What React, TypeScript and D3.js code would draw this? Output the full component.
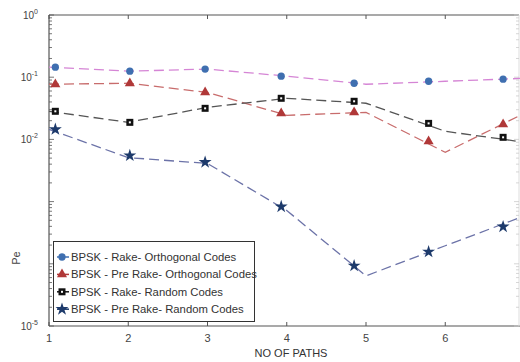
import * as d3 from "d3";
import { useEffect, useRef } from "react";

const paths = [1, 2, 3, 4, 5, 6, 7];
// markers sit a little left of the line vertices in the source figure
const markerPaths = [1.08, 2.02, 2.97, 3.93, 4.85, 5.79, 6.73];

const rakeOrthLine = [0.145, 0.125, 0.135, 0.104, 0.077, 0.086, 0.096];
const rakeOrthMarks = [0.145, 0.125, 0.135, 0.104, 0.08, 0.086, 0.093];
const preRakeOrthLine = [0.077, 0.08, 0.057, 0.0244, 0.0272, 0.0062, 0.0263];
const preRakeOrthMarks = [0.077, 0.08, 0.057, 0.0263, 0.0272, 0.0093, 0.0175];
const rakeRandLine = [0.0283, 0.0188, 0.0328, 0.0458, 0.0381, 0.0135, 0.009];
const rakeRandMarks = [0.0283, 0.0188, 0.0316, 0.0458, 0.041, 0.0181, 0.0108];
const preRakeRandLine = [0.0145, 0.0051, 0.0041, 0.00072, 0.000064, 0.000195, 0.00059];
const preRakeRandMarks = [0.0145, 0.0055, 0.0043, 0.00083, 0.000093, 0.000156, 0.000395];

const seriesNames = [
  "BPSK - Rake- Orthogonal Codes",
  "BPSK - Pre Rake- Orthogonal Codes",
  "BPSK - Rake- Random Codes",
  "BPSK - Pre Rake- Random Codes",
];
const xTicks = [1, 2, 3, 4, 5, 6];
const yLabelExps = [0, -1, -2, -5];

export default function App() {
  const ref = useRef<SVGSVGElement>(null);

  useEffect(() => {
    const svg = d3.select(ref.current);
    svg.selectAll("*").remove();

    const width = 520;
    const height = 362;
    const left = 49;
    const right = 519;
    const top = 15;
    const bottom = 326;

    const x = d3.scaleLinear().domain([1, 7]).range([left, 524.5]);
    const y = d3.scaleLog().domain([1e-5, 1]).range([bottom, top]);

    svg.append("rect").attr("width", width).attr("height", height).attr("fill", "#fff");

    const axisColor = "#555";
    const font = "Liberation Sans, Arial, sans-serif";

    // frame
    svg.append("line").attr("x1", left).attr("x2", right).attr("y1", top).attr("y2", top)
      .attr("stroke", axisColor).attr("stroke-width", 1.2);
    svg.append("line").attr("x1", left).attr("x2", width).attr("y1", bottom).attr("y2", bottom)
      .attr("stroke", axisColor).attr("stroke-width", 1.2);
    svg.append("line").attr("x1", left).attr("x2", left).attr("y1", top).attr("y2", bottom)
      .attr("stroke", axisColor).attr("stroke-width", 1.2);
    svg.append("line").attr("x1", right).attr("x2", right).attr("y1", top).attr("y2", bottom)
      .attr("stroke", "#ddd").attr("stroke-width", 1);

    // x ticks (inward on top and bottom)
    const xt = svg.append("g");
    xTicks.forEach((t) => {
      xt.append("line").attr("x1", x(t)).attr("x2", x(t)).attr("y1", top).attr("y2", top + 4)
        .attr("stroke", axisColor);
      xt.append("line").attr("x1", x(t)).attr("x2", x(t)).attr("y1", bottom).attr("y2", bottom - 4)
        .attr("stroke", axisColor);
      xt.append("text").attr("x", x(t)).attr("y", bottom + 16).attr("text-anchor", "middle")
        .attr("font-family", font).attr("font-size", 11).attr("fill", "#444").text(t);
    });

    // y ticks, log minor ticks
    const yt = svg.append("g");
    y.ticks().forEach((t) => {
      const major = Math.abs(Math.log10(t) - Math.round(Math.log10(t))) < 1e-6;
      const len = major ? 5 : 3;
      yt.append("line").attr("x1", left).attr("x2", left + len).attr("y1", y(t)).attr("y2", y(t))
        .attr("stroke", axisColor).attr("stroke-width", 0.8);
      yt.append("line").attr("x1", right).attr("x2", right - len).attr("y1", y(t)).attr("y2", y(t))
        .attr("stroke", "#ccc").attr("stroke-width", 0.8);
    });
    yLabelExps.forEach((e) => {
      const tx = yt.append("text").attr("x", 38).attr("y", y(Math.pow(10, e)) + 4)
        .attr("text-anchor", "end").attr("font-family", font).attr("font-size", 10).attr("fill", "#444");
      tx.append("tspan").text("10");
      tx.append("tspan").attr("font-size", 7).attr("dy", -5).text(e);
    });

    svg.append("text").attr("transform", `translate(20,258) rotate(-90)`)
      .attr("text-anchor", "middle").attr("font-family", font).attr("font-size", 11)
      .attr("fill", "#444").text("Pe");
    svg.append("text").attr("x", 291).attr("y", 357).attr("text-anchor", "middle")
      .attr("font-family", font).attr("font-size", 11).attr("fill", "#333").text("NO OF PATHS");

    const series = [
      { line: rakeOrthLine, marks: rakeOrthMarks, stroke: "#d585d5", fill: "#3f6fb0", shape: "circle" },
      { line: preRakeOrthLine, marks: preRakeOrthMarks, stroke: "#c86c6c", fill: "#b03838", shape: "triangle" },
      { line: rakeRandLine, marks: rakeRandMarks, stroke: "#555", fill: "#111", shape: "square" },
      { line: preRakeRandLine, marks: preRakeRandMarks, stroke: "#6c73a8", fill: "#1d3a6b", shape: "star" },
    ];

    const lineGen = d3.line<number>().x((_, i) => x(paths[i])).y((d) => y(d));

    const drawMarker = (g: any, shape: string, fill: string, cx: number, cy: number) => {
      if (shape === "square") {
        g.append("rect").attr("x", cx - 3.5).attr("y", cy - 3.5).attr("width", 7).attr("height", 7).attr("fill", fill);
        g.append("rect").attr("x", cx - 1).attr("y", cy - 1).attr("width", 2).attr("height", 2).attr("fill", "#fff");
        return;
      }
      const sym =
        shape === "circle" ? d3.symbol().type(d3.symbolCircle).size(42)
        : shape === "triangle" ? d3.symbol().type(d3.symbolTriangle).size(44)
        : d3.symbol().type(d3.symbolStar).size(52);
      g.append("path").attr("d", sym()).attr("transform", `translate(${cx},${cy})`).attr("fill", fill);
    };

    series.forEach((s) => {
      svg.append("path").attr("d", lineGen(s.line)).attr("fill", "none").attr("stroke", s.stroke)
        .attr("stroke-width", 1.3).attr("stroke-dasharray", "10,5");
    });
    series.forEach((s) => {
      const g = svg.append("g");
      s.marks.forEach((v, i) => drawMarker(g, s.shape, s.fill, x(markerPaths[i]), y(v)));
    });

    // legend
    const lg = svg.append("g");
    lg.append("rect").attr("x", 53.5).attr("y", 241.5).attr("width", 201).attr("height", 80)
      .attr("fill", "#fff").attr("stroke", "#333").attr("stroke-width", 1);
    series.forEach((s, i) => {
      const cy = 257 + i * 17.4;
      lg.append("line").attr("x1", 57).attr("x2", 69).attr("y1", cy).attr("y2", cy)
        .attr("stroke", s.fill).attr("stroke-width", 1.5);
      drawMarker(lg, s.shape, s.fill, 62, cy);
      lg.append("text").attr("x", 71).attr("y", cy + 4).attr("font-family", font).attr("font-size", 11.3)
        .attr("fill", "#333").text(seriesNames[i]);
    });
  }, []);

  return (
    <svg ref={ref} width={520} height={362} style={{ position: "absolute", left: 0, top: 0 }} />
  );
}
